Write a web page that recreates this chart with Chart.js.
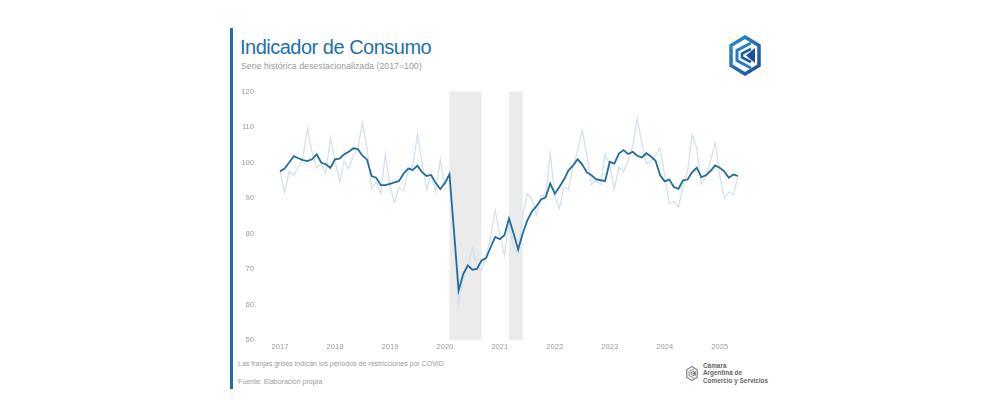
<!DOCTYPE html>
<html lang="es">
<head>
<meta charset="utf-8">
<title>Indicador de Consumo</title>
<script src="https://cdn.jsdelivr.net/npm/chart.js@4.4.1/dist/chart.umd.min.js"></script>
<style>
  html, body { margin: 0; padding: 0; background: #fff; }
  body { width: 1000px; height: 415px; position: relative; overflow: hidden; font-family: "Liberation Sans", Arial, sans-serif; }
  .side-bar { position: absolute; left: 230px; top: 28px; width: 3px; height: 361px; background: #1f6fae; }
  .title { position: absolute; left: 240px; top: 35px; font-size: 20px; letter-spacing: -0.5px; color: #1f6fae; line-height: 24px; white-space: nowrap; }
  .subtitle { position: absolute; left: 241px; top: 61px; font-size: 8.8px; color: #9a9a9a; line-height: 11px; white-space: nowrap; }
  #consumo-chart { position: absolute; left: 235px; top: 85px; }
  .note { position: absolute; left: 238px; font-size: 7px; color: #9a9a9a; line-height: 9px; white-space: nowrap; }
  .logo-top { position: absolute; left: 729px; top: 35px; }
  .logo-bottom { position: absolute; left: 686px; top: 364px; }
  .logo-text { position: absolute; left: 703px; top: 362px; font-size: 6.4px; font-weight: bold; color: #666; line-height: 7.3px; white-space: nowrap; }
</style>
</head>
<body>
<div class="side-bar"></div>
<div class="title">Indicador de Consumo</div>
<div class="subtitle">Serie histórica desestacionalizada (2017=100)</div>

<svg class="logo-top" width="32" height="41" viewBox="0 0 32 41">
  <defs>
    <linearGradient id="lg1" x1="0" y1="0" x2="1" y2="1">
      <stop offset="0" stop-color="#2f8bd0"/>
      <stop offset="1" stop-color="#1a4f96"/>
    </linearGradient>
  </defs>
  <polygon points="16,2 30,10.5 30,30.5 16,39 2,30.5 2,10.5" fill="none" stroke="url(#lg1)" stroke-width="3.5"/>
  <polyline points="22,8 8,15.5 8,25.5 22,33" fill="none" stroke="#2a7cc2" stroke-width="3"/>
  <polyline points="22,14 13,18.5 13,22.5 22,27" fill="none" stroke="#1c5ea6" stroke-width="2.6"/>
  <polygon points="26,13 26,28 17,20.5" fill="#1a4f96"/>
</svg>

<canvas id="consumo-chart" width="520" height="269" style="width:520px;height:269px;"></canvas>

<div class="note" style="top:359px;">Las franjas grises indican los periodos de restricciones por COVID</div>
<div class="note" style="top:377px;">Fuente: Elaboración propia</div>

<svg class="logo-bottom" width="12" height="19" viewBox="0 0 32 41">
  <polygon points="16,2 30,10.5 30,30.5 16,39 2,30.5 2,10.5" fill="none" stroke="#8a8a8a" stroke-width="3.5"/>
  <polyline points="22,8 8,15.5 8,25.5 22,33" fill="none" stroke="#9a9a9a" stroke-width="3"/>
  <polyline points="22,14 13,18.5 13,22.5 22,27" fill="none" stroke="#7a7a7a" stroke-width="2.6"/>
  <polygon points="26,13 26,28 17,20.5" fill="#777"/>
</svg>
<div class="logo-text">Cámara<br>Argentina de<br>Comercio y Servicios</div>

<script>
// Serie mensual: enero 2017 a mayo 2025
const yearLabels = ['2017', '2018', '2019', '2020', '2021', '2022', '2023', '2024', '2025'];
const monthsPerYear = 12;

// Serie desestacionalizada (linea oscura)
const serieDesest = [
    97.5, 98.3, 100.0, 101.8, 101.2, 100.7, 100.4, 100.9, 102.3, 100.0, 99.5, 98.5,
    100.9, 101.1, 102.3, 103.0, 104.0, 103.8, 101.9, 100.8, 96.2, 95.7, 93.6, 93.6,
    94.0, 94.4, 94.8, 96.9, 98.3, 97.9, 99.1, 97.3, 96.2, 96.5, 94.2, 92.5,
    94.2, 96.7, 80.5, 63.9, 68.6, 71.0, 69.8, 70.0, 72.4, 73.1, 76.2, 79.0,
    78.4, 79.5, 84.2, 80.0, 75.5, 80.0, 83.7, 86.2, 87.7, 89.6, 90.2, 94.1,
    91.2, 93.1, 95.2, 97.8, 99.2, 100.9, 99.4, 97.2, 96.4, 95.3, 95.0, 94.8,
    100.2, 99.7, 102.5, 103.5, 102.4, 103.0, 101.9, 101.4, 102.6, 101.7, 100.5, 96.4,
    94.7, 95.2, 93.1, 92.6, 95.0, 95.2, 97.3, 98.5, 95.9, 96.4, 97.6, 99.2,
    98.5, 97.5, 95.7, 96.6, 96.2
];

// Serie original (linea clara)
const serieOriginal = [
    97.5, 91.5, 97.5, 96.4, 98.8, 101.5, 109.6, 103.0, 98.5, 99.6, 96.9, 107.0,
    100.9, 94.5, 100.3, 98.3, 101.9, 104.0, 111.3, 104.0, 92.5, 94.5, 91.3, 102.3,
    93.6, 88.7, 93.0, 92.0, 97.5, 99.0, 107.9, 100.0, 92.5, 96.5, 91.7, 100.9,
    93.6, 96.5, 79.5, 60.2, 67.2, 70.6, 75.9, 71.0, 69.7, 73.8, 79.0, 86.5,
    79.5, 73.8, 83.2, 76.2, 74.4, 85.0, 91.2, 89.7, 85.2, 90.8, 90.5, 102.5,
    90.6, 87.0, 93.0, 92.5, 99.0, 103.5, 109.1, 102.0, 93.8, 95.0, 93.8, 102.5,
    99.2, 92.5, 98.7, 97.3, 100.5, 104.4, 112.4, 105.4, 99.7, 100.5, 102.0, 104.0,
    96.4, 88.4, 89.0, 87.4, 93.4, 97.5, 107.9, 104.0, 93.8, 96.0, 100.5, 105.6,
    96.4, 90.0, 91.7, 91.0, 96.0
];

// Franjas COVID (indice de mes inicio, indice de mes fin)
const covidStart = [37, 50];
const covidEnd = [44, 53];

const monthIndex = serieDesest.map((_, i) => i);

// Franjas grises detras de las lineas
const covidBands = {
    id: 'covidBands',
    beforeDatasetsDraw(chart) {
        const { ctx, chartArea, scales } = chart;
        ctx.save();
        ctx.fillStyle = '#ebebeb';
        covidStart.forEach((s, i) => {
            const x0 = scales.x.getPixelForValue(s);
            const x1 = scales.x.getPixelForValue(covidEnd[i]);
            ctx.fillRect(x0, chartArea.top, x1 - x0, chartArea.bottom - chartArea.top);
        });
        ctx.restore();
    }
};

const tickFont = { family: '"Liberation Sans", Arial, sans-serif', size: 7.6 };

new Chart(document.getElementById('consumo-chart'), {
    type: 'line',
    data: {
        labels: monthIndex,
        datasets: [
            {
                label: 'Desestacionalizada',
                data: serieDesest,
                borderColor: '#226d99',
                borderWidth: 1.8,
                pointRadius: 0,
                tension: 0
            },
            {
                label: 'Original',
                data: serieOriginal,
                borderColor: '#cfe0ec',
                borderWidth: 1.2,
                pointRadius: 0,
                tension: 0
            }
        ]
    },
    options: {
        responsive: false,
        animation: false,
        layout: { padding: { top: 6.5, right: 17, bottom: 0, left: 0 } },
        plugins: {
            legend: { display: false },
            tooltip: { enabled: false }
        },
        scales: {
            x: {
                type: 'category',
                offset: false,
                grid: { display: false, drawTicks: false },
                border: { display: false },
                ticks: {
                    autoSkip: false,
                    maxRotation: 0,
                    padding: 2,
                    color: '#9a9a9a',
                    font: tickFont,
                    callback: (val, idx) => idx % monthsPerYear === 0 ? yearLabels[idx / monthsPerYear] : null
                },
                afterFit: (scale) => { scale.height = 14; }
            },
            y: {
                min: 50,
                max: 120,
                grid: { display: false, drawTicks: false },
                border: { display: false },
                ticks: { stepSize: 10, padding: 26, color: '#9a9a9a', font: tickFont },
                // the big label gap should not push the plot down
                afterFit: (scale) => {
                    scale.width = 45;
                    scale.paddingTop = 4;
                    scale.paddingBottom = 4;
                }
            }
        }
    },
    plugins: [covidBands]
});
</script>
</body>
</html>
